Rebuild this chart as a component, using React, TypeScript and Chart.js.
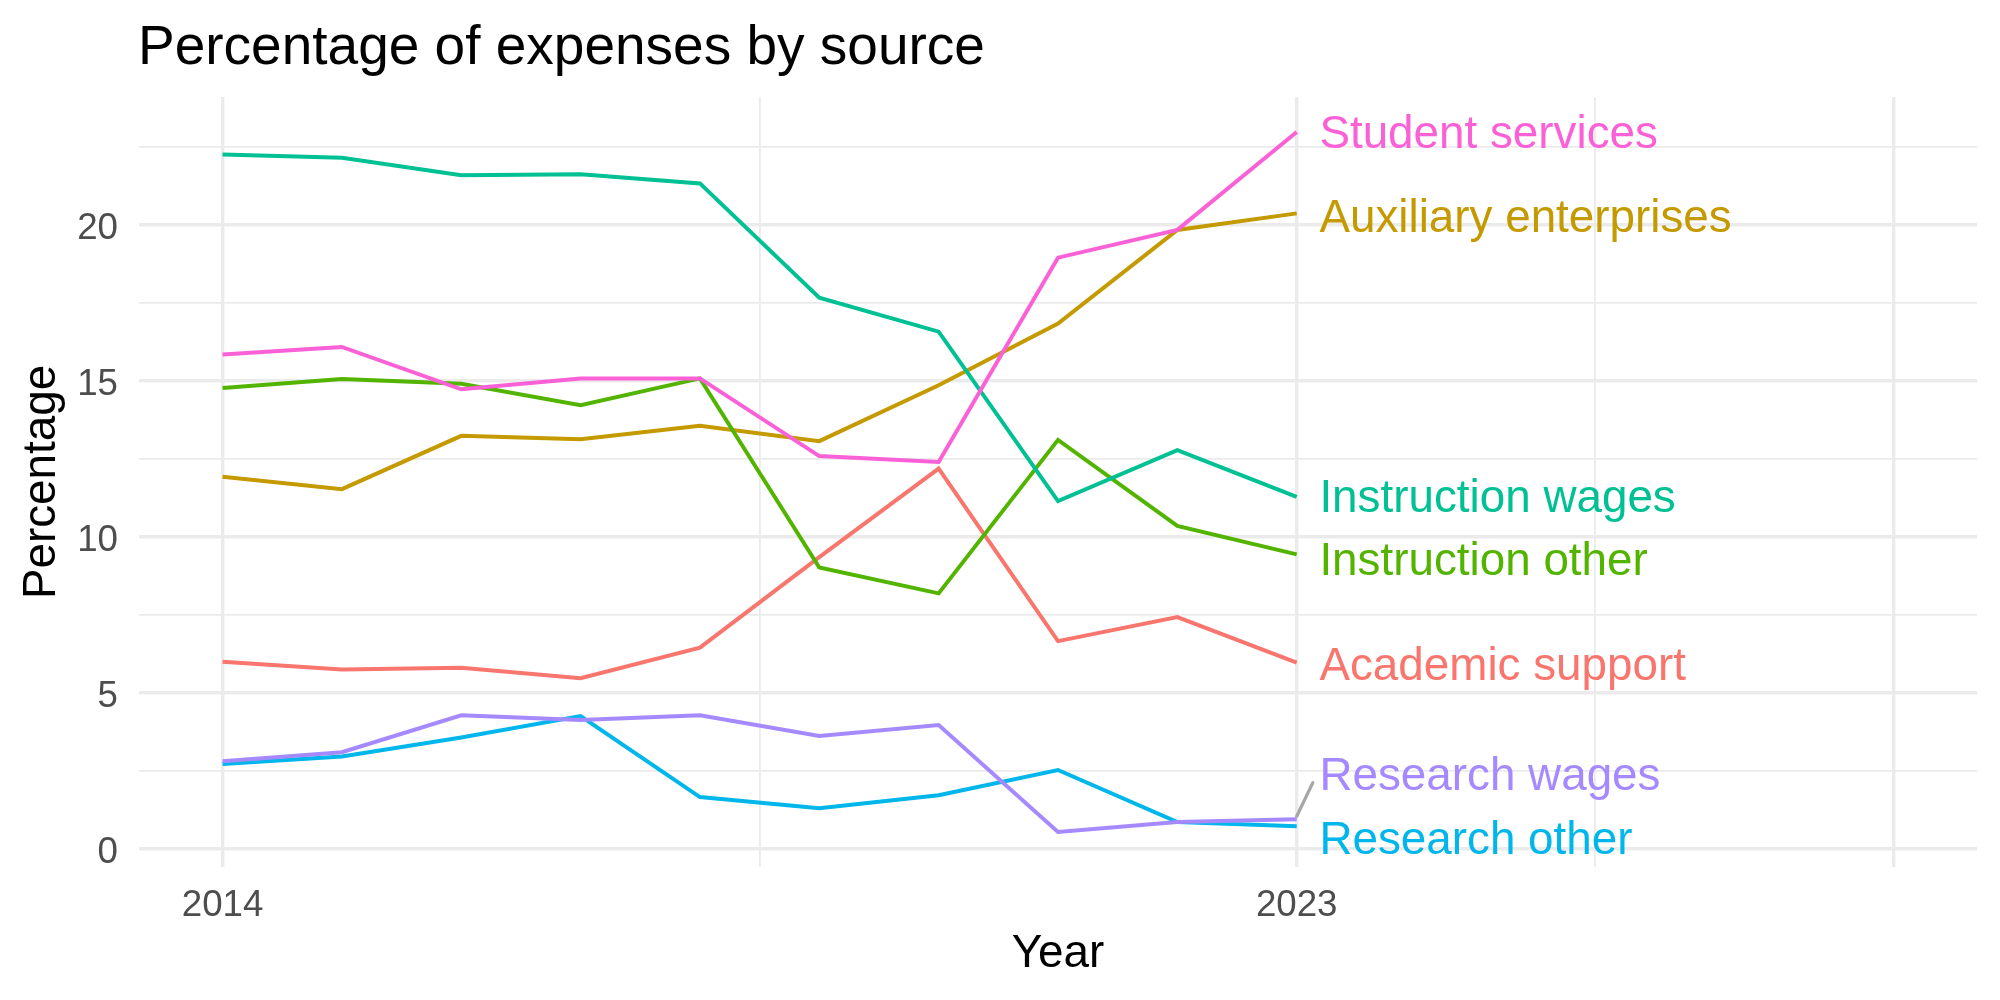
import React, { useEffect, useRef } from "react";
import { Chart, registerables } from "chart.js";

Chart.register(...registerables);

// ---------- data ----------
const years = [2014, 2015, 2016, 2017, 2018, 2019, 2020, 2021, 2022, 2023];

const seriesNames = [
  "Academic support",
  "Auxiliary enterprises",
  "Instruction other",
  "Instruction wages",
  "Research other",
  "Research wages",
  "Student services",
];

const academicSupport = [6.0, 5.75, 5.81, 5.47, 6.45, 9.35, 12.19, 6.66, 7.43, 5.97];
const auxiliaryEnterprises = [11.93, 11.53, 13.24, 13.13, 13.56, 13.07, 14.86, 16.84, 19.84, 20.37];
const instructionOther = [14.77, 15.06, 14.91, 14.22, 15.08, 9.02, 8.19, 13.11, 10.35, 9.44];
const instructionWages = [22.26, 22.15, 21.59, 21.62, 21.33, 17.67, 16.58, 11.15, 12.78, 11.28];
const researchOther = [2.72, 2.96, 3.57, 4.26, 1.66, 1.3, 1.72, 2.53, 0.86, 0.73];
const researchWages = [2.81, 3.1, 4.28, 4.13, 4.28, 3.62, 3.97, 0.54, 0.86, 0.95];
const studentServices = [15.85, 16.09, 14.73, 15.08, 15.08, 12.59, 12.4, 18.95, 19.84, 22.98];

const seriesValues = [
  academicSupport,
  auxiliaryEnterprises,
  instructionOther,
  instructionWages,
  researchOther,
  researchWages,
  studentServices,
];

const seriesColors = ["#F8766D", "#C49A00", "#53B400", "#00C094", "#00B6EB", "#A58AFF", "#FB61D7"];

// label repel offsets (value units, relative to last value)
const labelNudgeY = [-0.04, -0.08, -0.12, 0.05, -0.36, 1.47, 0];

const xMajorTicks = [2014, 2023, 2028];
const xMinorTicks = [2018.5, 2025.5];
const xTickLabels = ["2014", "2023", ""];
const yMajorTicks = [0, 5, 10, 15, 20];
const yMinorTicks = [2.5, 7.5, 12.5, 17.5, 22.5];
const yTickLabels = ["0", "5", "10", "15", "20"];

const titleText = "Percentage of expenses by source";
const xTitle = "Year";
const yTitle = "Percentage";

const FONT = '"Liberation Sans", Arial, Helvetica, sans-serif';
const GRID = "#EBEBEB";

const overlayPlugin = {
  id: "overlay",
  afterDatasetsDraw(chart: any) {
    const ctx = chart.ctx;
    const xs = chart.scales.x;
    const ys = chart.scales.y;
    const lastIdx = years.length - 1;
    const lastYear = years[lastIdx];
    ctx.save();
    // repel segment for displaced label
    seriesValues.forEach((vals, i) => {
      if (Math.abs(labelNudgeY[i]) > 1) {
        const x0 = xs.getPixelForValue(lastYear);
        const y0 = ys.getPixelForValue(vals[lastIdx]);
        const x1 = xs.getPixelForValue(lastYear + 0.135);
        const y1 = ys.getPixelForValue(vals[lastIdx] + labelNudgeY[i] - 0.3);
        ctx.strokeStyle = "#A6A6A6";
        ctx.lineWidth = 3.2;
        ctx.lineCap = "round";
        ctx.beginPath();
        ctx.moveTo(x0, y0 - 3);
        ctx.lineTo(x1, y1);
        ctx.stroke();
      }
    });
    // direct labels
    ctx.font = `45.8px ${FONT}`;
    ctx.textAlign = "left";
    ctx.textBaseline = "alphabetic";
    seriesValues.forEach((vals, i) => {
      const x = xs.getPixelForValue(lastYear + 0.19);
      const y = ys.getPixelForValue(vals[lastIdx] + labelNudgeY[i]);
      ctx.fillStyle = seriesColors[i];
      ctx.fillText(seriesNames[i], x, y + 16.4);
    });
    ctx.restore();
  },
  afterDraw(chart: any) {
    const ctx = chart.ctx;
    const xs = chart.scales.x;
    const ys = chart.scales.y;
    const area = chart.chartArea;
    ctx.save();
    // title
    ctx.fillStyle = "#000000";
    ctx.font = `55px ${FONT}`;
    ctx.textAlign = "left";
    ctx.textBaseline = "alphabetic";
    ctx.fillText(titleText, 138, 64);
    // tick labels
    ctx.fillStyle = "#4D4D4D";
    ctx.font = `36.7px ${FONT}`;
    ctx.textAlign = "right";
    yMajorTicks.forEach((v, i) => {
      ctx.fillText(yTickLabels[i], 118, ys.getPixelForValue(v) + 14);
    });
    ctx.textAlign = "center";
    xMajorTicks.forEach((v, i) => {
      if (xTickLabels[i]) ctx.fillText(xTickLabels[i], xs.getPixelForValue(v), 916);
    });
    // axis titles
    ctx.fillStyle = "#000000";
    ctx.font = `45.8px ${FONT}`;
    ctx.textAlign = "center";
    ctx.fillText(xTitle, (area.left + area.right) / 2, 967);
    ctx.translate(55, (area.top + area.bottom) / 2);
    ctx.rotate(-Math.PI / 2);
    ctx.fillText(yTitle, 0, 0);
    ctx.restore();
  },
};

export default function App() {
  const canvasRef = useRef<HTMLCanvasElement | null>(null);

  useEffect(() => {
    if (!canvasRef.current) return;
    const n = seriesNames.length;
    const chart = new Chart(canvasRef.current, {
      type: "line",
      data: {
        datasets: seriesNames.map((name, i) => ({
          label: name,
          data: years.map((yr, j) => ({ x: yr, y: seriesValues[i][j] })),
          borderColor: seriesColors[i],
          backgroundColor: seriesColors[i],
          borderWidth: 4,
          pointRadius: 0,
          tension: 0,
          fill: false,
          order: n - 1 - i,
        })),
      },
      options: {
        animation: false,
        responsive: false,
        devicePixelRatio: 1,
        layout: { padding: { left: 0, top: 97, right: 23, bottom: 0 } },
        plugins: {
          legend: { display: false },
          tooltip: { enabled: false },
          title: { display: false },
        },
        events: [],
        scales: {
          x: {
            type: "linear",
            min: 2013.3,
            max: 2028.7,
            afterBuildTicks: (s: any) => {
              s.ticks = [...xMajorTicks, ...xMinorTicks].sort((a, b) => a - b).map((v) => ({ value: v }));
            },
            afterFit: (s: any) => {
              s.height = 133;
            },
            ticks: { display: false },
            border: { display: false },
            grid: {
              color: GRID,
              drawTicks: false,
              lineWidth: (c: any) => (xMajorTicks.includes(c.tick?.value) ? 3.4 : 1.8),
            },
          },
          y: {
            type: "linear",
            min: -0.58,
            max: 24.1,
            afterBuildTicks: (s: any) => {
              s.ticks = [...yMajorTicks, ...yMinorTicks].sort((a, b) => a - b).map((v) => ({ value: v }));
            },
            afterFit: (s: any) => {
              s.width = 139;
            },
            ticks: { display: false },
            border: { display: false },
            grid: {
              color: GRID,
              drawTicks: false,
              lineWidth: (c: any) => (yMajorTicks.includes(c.tick?.value) ? 3.4 : 1.8),
            },
          },
        },
      },
      plugins: [overlayPlugin],
    });
    return () => chart.destroy();
  }, []);

  return (
    <div style={{ position: "absolute", left: 0, top: 0, width: 2000, height: 1000, background: "#fff" }}>
      <canvas ref={canvasRef} width={2000} height={1000} />
    </div>
  );
}
